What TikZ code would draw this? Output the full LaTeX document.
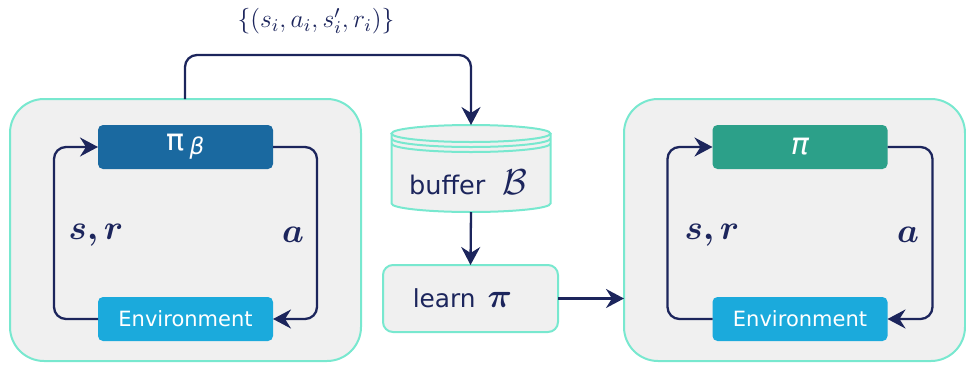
\RequirePackage{fix-cm}
\documentclass[tikz,border=0pt]{standalone}
\usepackage{amsmath,amssymb,bm}
\usepackage[no-math]{fontspec}
\newfontfamily\dv{DejaVu Sans}
\usetikzlibrary{arrows.meta,calc}

\definecolor{navy}{HTML}{1C255C}
\definecolor{mint}{HTML}{78E8CF}
\definecolor{panel}{HTML}{F0F0F0}
\definecolor{polblue}{HTML}{1A69A0}
\definecolor{polgreen}{HTML}{2CA089}
\definecolor{envblue}{HTML}{1BAADC}

\tikzset{
  flow/.style={draw=navy, line width=1.15pt, rounded corners=6pt,
    -{Stealth[length=9pt,width=9.5pt,inset=3pt]}},
  panelbox/.style={draw=mint, line width=1pt, fill=panel, rounded corners=17pt,
    inner sep=0pt, outer sep=0pt},
  block/.style={rounded corners=2.5pt, inner sep=0pt, outer sep=0pt,
    minimum width=87.5pt, minimum height=22pt, text=white},
  looplabel/.style={text=navy, font=\fontsize{17.28}{20}\selectfont},
}

\begin{document}
\begin{tikzpicture}[x=0.5pt, y=-0.5pt]
  \useasboundingbox (0,0) rectangle (966,365);

  % outer panels
  \node[panelbox, minimum width=175.5pt, minimum height=131pt] (boxL) at (185.5,230) {};
  \node[panelbox, minimum width=170.5pt, minimum height=131pt] (boxR) at (794.5,230) {};

  % left agent/environment loop
  \node[block, fill=polblue, font=\dv\fontsize{15}{17}\selectfont] (piB) at (185.5,147)
    {π\,\raisebox{-2pt}{\itshape\fontsize{11.5}{13}\selectfont β}};
  \node[block, fill=envblue, font=\dv\fontsize{10.5}{12}\selectfont] (envL) at (185.5,319)
    {Environment};
  \draw[flow] (envL.west) -- ++(-44,0) |- (piB.west);
  \draw[flow] (piB.east) -- ++(44,0) |- (envL.east);
  \node[looplabel] (srL) at (96,235) {$\boldsymbol{s,r}$};
  \node[looplabel] (aL) at (293,235) {$\boldsymbol{a}$};

  % right agent/environment loop
  \node[block, fill=polgreen, font=\dv\itshape\fontsize{15}{17}\selectfont] (piR) at (800,147)
    {π};
  \node[block, fill=envblue, font=\dv\fontsize{10.5}{12}\selectfont] (envR) at (800,319)
    {Environment};
  \draw[flow] (envR.west) -- ++(-45,0) |- (piR.west);
  \draw[flow] (piR.east) -- ++(45,0) |- (envR.east);
  \node[looplabel] (srR) at (712,235) {$\boldsymbol{s,r}$};
  \node[looplabel] (aR) at (908,235) {$\boldsymbol{a}$};

  % replay buffer drawn as a stacked cylinder
  \node[inner sep=0pt, outer sep=0pt, minimum width=79.5pt, minimum height=43.5pt] (buf) at (471,168.5) {};
  \fill[panel] (391.5,133.5) -- (391.5,203.5)
    arc[start angle=180, end angle=360, x radius=39.75pt, y radius=4.25pt]
    -- (550.5,133.5) -- cycle;
  \draw[mint, line width=1pt] (391.5,133.5) -- (391.5,203.5)
    arc[start angle=180, end angle=360, x radius=39.75pt, y radius=4.25pt]
    -- (550.5,133.5);
  \draw[mint, line width=1pt, fill=panel] (471,133.5) ellipse[x radius=39.75pt, y radius=4.25pt];
  \draw[mint, line width=1pt] (391.5,138.5)
    arc[start angle=180, end angle=360, x radius=39.75pt, y radius=4.25pt];
  \draw[mint, line width=1pt] (391.5,143.5)
    arc[start angle=180, end angle=360, x radius=39.75pt, y radius=4.25pt];
  \node[text=navy, font=\dv\fontsize{12.8}{15}\selectfont] (bufText) at (468,182)
    {buffer\,\, {\fontsize{18}{20}\selectfont$\mathcal{B}$}};

  % learning step
  \node[draw=mint, line width=1pt, fill=panel, rounded corners=5pt,
    minimum width=87.5pt, minimum height=33.5pt, inner sep=0pt, outer sep=0pt,
    text=navy, font=\dv\fontsize{12.4}{15}\selectfont] (learn) at (470.5,298.5)
    {\hspace*{-8pt}learn\, {\fontsize{17}{18}\selectfont$\boldsymbol{\pi}$}};

  % data flow
  \draw[flow] (boxL.north west) ++(175,0) -- ++(0,-44) -| (buf.north);
  \node[text=navy, font=\fontsize{12.8}{15}\selectfont] (batch) at (316,21)
    {$\{(s_i,a_i,s'_i,r_i)\}$};
  \draw[flow] (buf.south) -- (learn.north);
  \draw[flow] (learn.east) -- (learn.east -| boxR.west);
\end{tikzpicture}
\end{document}
